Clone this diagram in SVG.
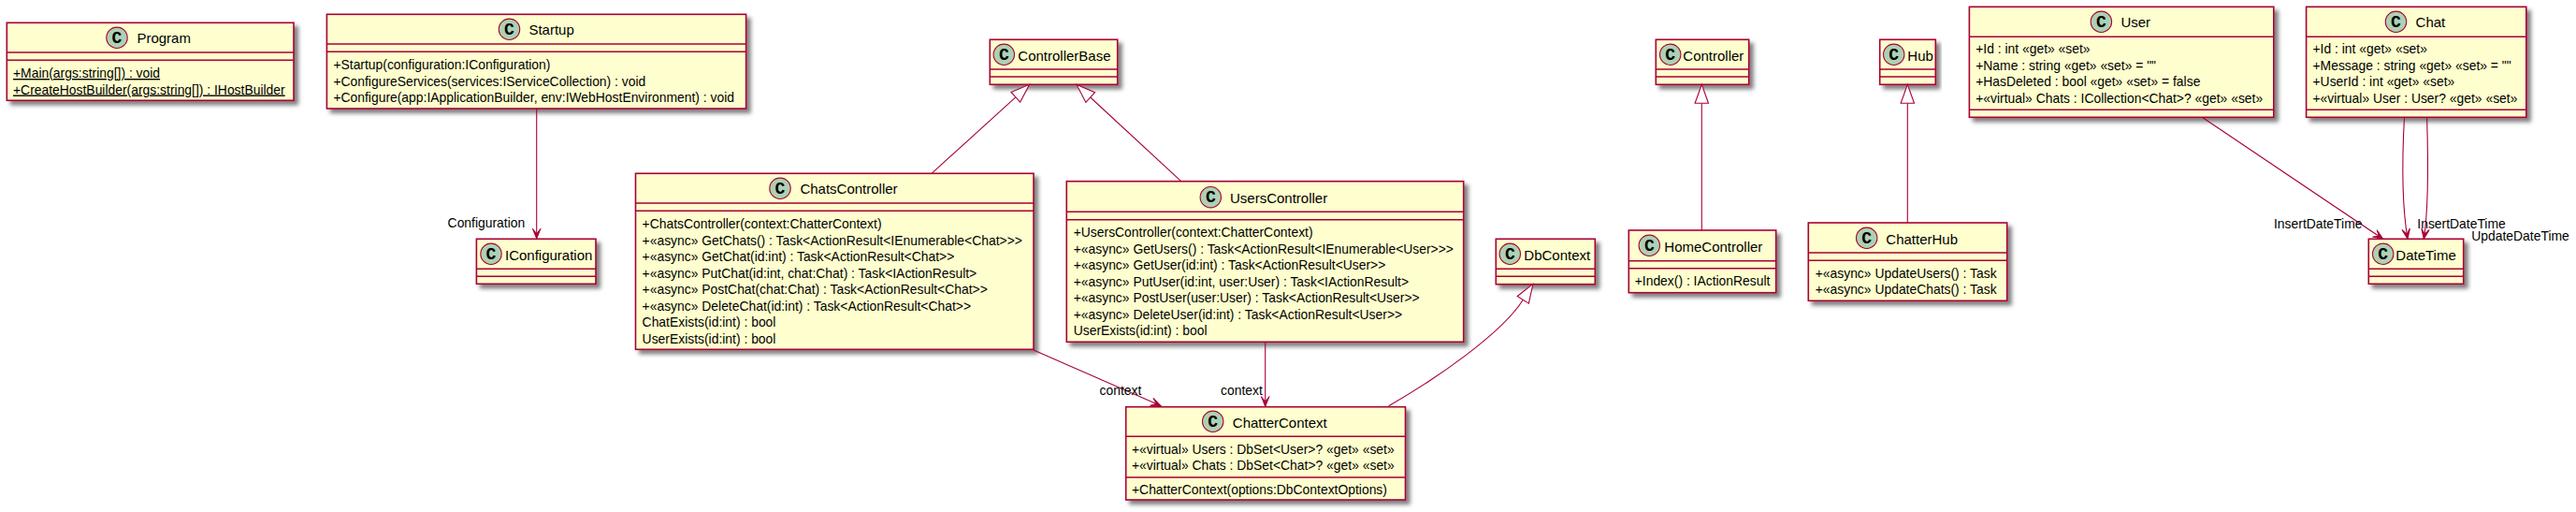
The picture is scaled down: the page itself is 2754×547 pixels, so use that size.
<svg xmlns="http://www.w3.org/2000/svg" width="2754" height="547" viewBox="0 0 2754 547">
<style>
text{font-family:"Liberation Sans",Arial,sans-serif;fill:#000}
.b{fill:#FEFECE;stroke:#A80036;stroke-width:1.6;filter:url(#sh)}
.d{stroke:#A80036;stroke-width:1.6;fill:none}
.s{fill:#ADD1B2;stroke:#A80036;stroke-width:1.1}
.g{font-family:"Liberation Mono",monospace;font-size:18px;font-weight:bold;text-anchor:middle}
.t{font-size:15px}
.m{font-size:13.9px}
.u{text-decoration:underline;text-underline-offset:2.4px}
.l{font-size:13.9px}
.c{fill:none;stroke:#A80036;stroke-width:1.1}
.o{marker-end:url(#open)}
.i{marker-end:url(#tri)}
</style>
<defs>
<filter id="sh" x="-10%" y="-10%" width="120%" height="130%"><feDropShadow dx="4.3" dy="4.3" stdDeviation="1.9" flood-color="#000" flood-opacity="0.5"/></filter>
<marker id="open" markerUnits="userSpaceOnUse" markerWidth="14" markerHeight="12" refX="12" refY="6" orient="auto" viewBox="0 0 14 12"><path d="M12,6 L1.3,1.7 L6.7,6 L1.3,10.3 Z" fill="#A80036" stroke="#A80036"/></marker>
<marker id="tri" markerUnits="userSpaceOnUse" markerWidth="24" markerHeight="18" refX="1" refY="9" orient="auto" viewBox="0 0 24 18"><path d="M1,1.8 L21,9 L1,16.2 Z" fill="#fff" stroke="#A80036" stroke-width="1.1"/></marker>
</defs>
<g id="node-Program"><rect class="b" x="7.3" y="24.3" width="306.7" height="83"/><path class="d" d="M7.3,56H314M7.3,64.3H314"/><circle class="s" cx="125" cy="40.3" r="11.2"/><text class="g" x="125" y="45.8">C</text><text class="t" x="146.4" y="46.3">Program</text><text class="m u" x="14" y="83">+Main(args:string[]) : void</text><text class="m u" x="14" y="100.5">+CreateHostBuilder(args:string[]) : IHostBuilder</text></g>
<g id="node-Startup"><rect class="b" x="349.4" y="15.3" width="448.2" height="100.7"/><path class="d" d="M349.4,47H797.6M349.4,55.3H797.6"/><circle class="s" cx="544.5" cy="31.3" r="11.2"/><text class="g" x="544.5" y="36.8">C</text><text class="t" x="565.4" y="37.3">Startup</text><text class="m" x="356.4" y="74">+Startup(configuration:IConfiguration)</text><text class="m" x="356.4" y="91.5">+ConfigureServices(services:IServiceCollection) : void</text><text class="m" x="356.4" y="109">+Configure(app:IApplicationBuilder, env:IWebHostEnvironment) : void</text></g>
<g id="node-IConfiguration"><rect class="b" x="509.4" y="255.3" width="127.6" height="48"/><path class="d" d="M509.4,287.3H637M509.4,295.3H637"/><circle class="s" cx="525" cy="271.3" r="11.2"/><text class="g" x="525" y="276.8">C</text><text class="t" x="540" y="278">IConfiguration</text></g>
<g id="node-ControllerBase"><rect class="b" x="1058.3" y="42.3" width="136.4" height="48"/><path class="d" d="M1058.3,74H1194.7M1058.3,82H1194.7"/><circle class="s" cx="1073.3" cy="58.3" r="11.2"/><text class="g" x="1073.3" y="63.8">C</text><text class="t" x="1088.3" y="65">ControllerBase</text></g>
<g id="node-ChatsController"><rect class="b" x="679.5" y="185.3" width="425.5" height="188"/><path class="d" d="M679.5,217H1105M679.5,225.3H1105"/><circle class="s" cx="834" cy="201.3" r="11.2"/><text class="g" x="834" y="206.8">C</text><text class="t" x="855.4" y="207.3">ChatsController</text>
<text class="m" x="686.6" y="244">+ChatsController(context:ChatterContext)</text><text class="m" x="686.6" y="261.5">+«async» GetChats() : Task&lt;ActionResult&lt;IEnumerable&lt;Chat&gt;&gt;&gt;</text><text class="m" x="686.6" y="279">+«async» GetChat(id:int) : Task&lt;ActionResult&lt;Chat&gt;&gt;</text><text class="m" x="686.6" y="296.5">+«async» PutChat(id:int, chat:Chat) : Task&lt;IActionResult&gt;</text><text class="m" x="686.6" y="314">+«async» PostChat(chat:Chat) : Task&lt;ActionResult&lt;Chat&gt;&gt;</text><text class="m" x="686.6" y="331.5">+«async» DeleteChat(id:int) : Task&lt;ActionResult&lt;Chat&gt;&gt;</text><text class="m" x="686.6" y="349">ChatExists(id:int) : bool</text><text class="m" x="686.6" y="366.5">UserExists(id:int) : bool</text></g>
<g id="node-UsersController"><rect class="b" x="1140.3" y="193.7" width="424.4" height="171.6"/><path class="d" d="M1140.3,226.3H1564.7M1140.3,234.7H1564.7"/><circle class="s" cx="1294.3" cy="210.7" r="11.2"/><text class="g" x="1294.3" y="216.2">C</text><text class="t" x="1315" y="216.7">UsersController</text>
<text class="m" x="1147.7" y="253.3">+UsersController(context:ChatterContext)</text><text class="m" x="1147.7" y="270.8">+«async» GetUsers() : Task&lt;ActionResult&lt;IEnumerable&lt;User&gt;&gt;&gt;</text><text class="m" x="1147.7" y="288.3">+«async» GetUser(id:int) : Task&lt;ActionResult&lt;User&gt;&gt;</text><text class="m" x="1147.7" y="305.8">+«async» PutUser(id:int, user:User) : Task&lt;IActionResult&gt;</text><text class="m" x="1147.7" y="323.3">+«async» PostUser(user:User) : Task&lt;ActionResult&lt;User&gt;&gt;</text><text class="m" x="1147.7" y="340.8">+«async» DeleteUser(id:int) : Task&lt;ActionResult&lt;User&gt;&gt;</text><text class="m" x="1147.7" y="358.3">UserExists(id:int) : bool</text></g>
<g id="node-DbContext"><rect class="b" x="1599.3" y="255.3" width="106" height="48.4"/><path class="d" d="M1599.3,287.3H1705.3M1599.3,295.3H1705.3"/><circle class="s" cx="1614.3" cy="271.3" r="11.2"/><text class="g" x="1614.3" y="276.8">C</text><text class="t" x="1629.3" y="278">DbContext</text></g>
<g id="node-ChatterContext"><rect class="b" x="1203.7" y="434.7" width="298.8" height="99.3"/><path class="d" d="M1203.7,466.3H1502.5M1203.7,510H1502.5"/><circle class="s" cx="1296.7" cy="450.3" r="11.2"/><text class="g" x="1296.7" y="455.8">C</text><text class="t" x="1317.8" y="456.7">ChatterContext</text><text class="m" x="1210" y="484.7">+«virtual» Users : DbSet&lt;User&gt;? «get» «set»</text><text class="m" x="1210" y="502.2">+«virtual» Chats : DbSet&lt;Chat&gt;? «get» «set»</text><text class="m" x="1210" y="528">+ChatterContext(options:DbContextOptions)</text></g>
<g id="node-Controller"><rect class="b" x="1770.3" y="42.3" width="99.4" height="48"/><path class="d" d="M1770.3,74H1869.7M1770.3,82H1869.7"/><circle class="s" cx="1785.7" cy="58.3" r="11.2"/><text class="g" x="1785.7" y="63.8">C</text><text class="t" x="1799.3" y="65">Controller</text></g>
<g id="node-HomeController"><rect class="b" x="1741.3" y="246" width="157.4" height="66.7"/><path class="d" d="M1741.3,278.7H1898.7M1741.3,286.7H1898.7"/><circle class="s" cx="1763.3" cy="262.3" r="11.2"/><text class="g" x="1763.3" y="267.8">C</text><text class="t" x="1779.3" y="269.3">HomeController</text><text class="m" x="1747.7" y="305">+Index() : IActionResult</text></g>
<g id="node-Hub"><rect class="b" x="2009.7" y="42.3" width="59.6" height="48"/><path class="d" d="M2009.7,74H2069.3M2009.7,82H2069.3"/><circle class="s" cx="2024.7" cy="58.3" r="11.2"/><text class="g" x="2024.7" y="63.8">C</text><text class="t" x="2039.3" y="65">Hub</text></g>
<g id="node-ChatterHub"><rect class="b" x="1933.3" y="238" width="212.4" height="83.3"/><path class="d" d="M1933.3,270H2145.7M1933.3,278.3H2145.7"/><circle class="s" cx="1995.7" cy="254.3" r="11.2"/><text class="g" x="1995.7" y="259.8">C</text><text class="t" x="2016.3" y="260.7">ChatterHub</text><text class="m" x="1940.7" y="296.7">+«async» UpdateUsers() : Task</text><text class="m" x="1940.7" y="314">+«async» UpdateChats() : Task</text></g>
<g id="node-User"><rect class="b" x="2105.4" y="7.3" width="325.4" height="118"/><path class="d" d="M2105.4,39.3H2430.8M2105.4,117.3H2430.8"/><circle class="s" cx="2246.4" cy="23.3" r="11.2"/><text class="g" x="2246.4" y="28.8">C</text><text class="t" x="2267.4" y="29.3">User</text><text class="m" x="2112.2" y="57.3">+Id : int «get» «set»</text><text class="m" x="2112.2" y="74.8">+Name : string «get» «set» = ""</text><text class="m" x="2112.2" y="92.3">+HasDeleted : bool «get» «set» = false</text><text class="m" x="2112.2" y="109.8">+«virtual» Chats : ICollection&lt;Chat&gt;? «get» «set»</text></g>
<g id="node-Chat"><rect class="b" x="2465.6" y="7.3" width="235.2" height="118"/><path class="d" d="M2465.6,39.3H2700.8M2465.6,117.3H2700.8"/><circle class="s" cx="2561.5" cy="23.3" r="11.2"/><text class="g" x="2561.5" y="28.8">C</text><text class="t" x="2582.6" y="29.3">Chat</text><text class="m" x="2472.5" y="57.3">+Id : int «get» «set»</text><text class="m" x="2472.5" y="74.8">+Message : string «get» «set» = ""</text><text class="m" x="2472.5" y="92.3">+UserId : int «get» «set»</text><text class="m" x="2472.5" y="109.8">+«virtual» User : User? «get» «set»</text></g>
<g id="node-DateTime"><rect class="b" x="2532.3" y="255.3" width="101.4" height="48"/><path class="d" d="M2532.3,287.3H2633.7M2532.3,295.3H2633.7"/><circle class="s" cx="2547.7" cy="271.3" r="11.2"/><text class="g" x="2547.7" y="276.8">C</text><text class="t" x="2561.3" y="278">DateTime</text></g>
<g id="connectors">
<path class="c o" d="M573.7,116V255"/>
<path class="c i" d="M996,185.3L1085.8,103.8"/>
<path class="c i" d="M1262.7,193.7L1165.7,104"/>
<path class="c o" d="M1105,374L1241,433.5"/>
<path class="c o" d="M1352.7,365.3V434.3"/>
<path class="c i" d="M1484.6,433.7C1535,405 1606,356 1628.3,320.3"/>
<path class="c i" d="M1819.3,246V110.3"/>
<path class="c i" d="M2039.3,238V110.3"/>
<path class="c o" d="M2354.3,125.3L2547.7,255.3"/>
<path class="c o" d="M2570.5,125.3C2568,170 2568,220 2574,255.3"/>
<path class="c o" d="M2594.6,125.3C2596,170 2597,220 2591.3,255.3"/>
<text class="l" x="478.6" y="243.3">Configuration</text>
<text class="l" x="1175.5" y="422.3">context</text>
<text class="l" x="1305" y="422.3">context</text>
<text class="l" x="2431" y="244">InsertDateTime</text>
<text class="l" x="2584.3" y="244">InsertDateTime</text>
<text class="l" x="2642.3" y="256.7">UpdateDateTime</text>
</g>
</svg>
